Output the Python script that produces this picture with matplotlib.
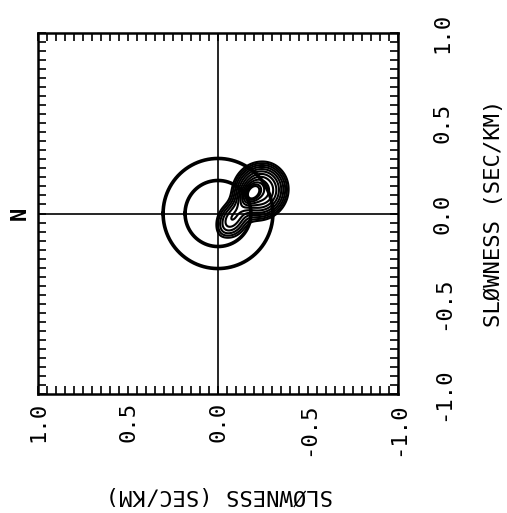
import numpy as np
import matplotlib
matplotlib.use("Agg")
import matplotlib.pyplot as plt
from matplotlib.ticker import MultipleLocator

# Slowness grid limits and tick labels
limits = (-1.0, 1.0)
tick_values = [1.0, 0.5, 0.0, -0.5, -1.0]
tick_labels = ["1.0", "0.5", "0.0", "-0.5", "-1.0"]
axis_title = "SLØWNESS (SEC/KM)"
north_label = "N"

# Reference slowness circles (sec/km)
circle_radii = [0.183, 0.305]

# Beam-power peaks: centre (u, v), widths (su, sv), rotation (deg), amplitude
peak_u = [-0.235, -0.192, -0.125, -0.075]
peak_v = [0.125, 0.115, 0.035, -0.040]
peak_su = [0.075, 0.035, 0.100, 0.065]
peak_sv = [0.070, 0.024, 0.030, 0.055]
peak_rot = [120, 125, 127, 110]
peak_amp = [0.55, 0.70, 0.08, 0.13]

# Contour levels of beam power (dB below maximum)
levels_db = [-14.0, -12.8, -11.6, -10.4, -9.2, -8.0, -6.8, -5.6,
             -4.4, -3.2, -2.2, -1.5]

plt.rcParams["font.family"] = ["DejaVu Sans Mono"]

fig = plt.figure(figsize=(5.07, 5.13), dpi=100)
W, H = 507, 513
ax = fig.add_axes([38 / W, (H - 394) / H, 360 / W, 361 / H])

# Power field built from the peak table
u = np.linspace(-1, 1, 801)
v = np.linspace(-1, 1, 801)
U, V = np.meshgrid(u, v)
P = np.zeros_like(U)
for cu, cv, su, sv, rot, a in zip(peak_u, peak_v, peak_su, peak_sv, peak_rot, peak_amp):
    t = np.deg2rad(rot)
    du, dv = U - cu, V - cv
    x1 = du * np.cos(t) + dv * np.sin(t)
    y1 = -du * np.sin(t) + dv * np.cos(t)
    P += a * np.exp(-0.5 * ((x1 / su) ** 2 + (y1 / sv) ** 2))
P /= P.max()
P_db = 10 * np.log10(np.maximum(P, 1e-12))

ax.contour(U, V, P_db, levels=levels_db, colors="black", linewidths=1.5,
           linestyles="solid")

th = np.linspace(0, 2 * np.pi, 400)
for r in circle_radii:
    ax.plot(r * np.cos(th), r * np.sin(th), color="black", lw=2.6)

ax.axhline(0, color="black", lw=1.2)
ax.axvline(0, color="black", lw=1.2)

ax.set_xlim(limits[1], limits[0])
ax.set_ylim(limits[0], limits[1])

ax.xaxis.set_minor_locator(MultipleLocator(0.05))
ax.yaxis.set_minor_locator(MultipleLocator(0.05))
ax.set_xticks(tick_values)
ax.set_xticklabels(tick_labels)
ax.set_yticks(tick_values)
ax.set_yticklabels(tick_labels)

ax.tick_params(which="both", direction="in", top=True, bottom=True,
               left=True, right=True, length=6, width=1.2, color="black")
ax.tick_params(axis="y", labelleft=False, labelright=True, labelrotation=90,
               pad=25, labelsize=16)
ax.tick_params(axis="x", labelrotation=90, pad=6, labelsize=16)
for lab in ax.get_yticklabels():
    lab.set_va("center")

for s in ax.spines.values():
    s.set_linewidth(1.8)

fig.text(494 / W, 1 - 213 / H, axis_title, rotation=90, ha="center",
         va="center", fontsize=16)
fig.text(219 / W, 1 - 495 / H, axis_title, rotation=180, ha="center",
         va="center", fontsize=16)
fig.text(20 / W, 1 - 213 / H, north_label, rotation=90, ha="center",
         va="center", fontsize=16, fontweight="bold")

fig.savefig("out.png", dpi=100)
